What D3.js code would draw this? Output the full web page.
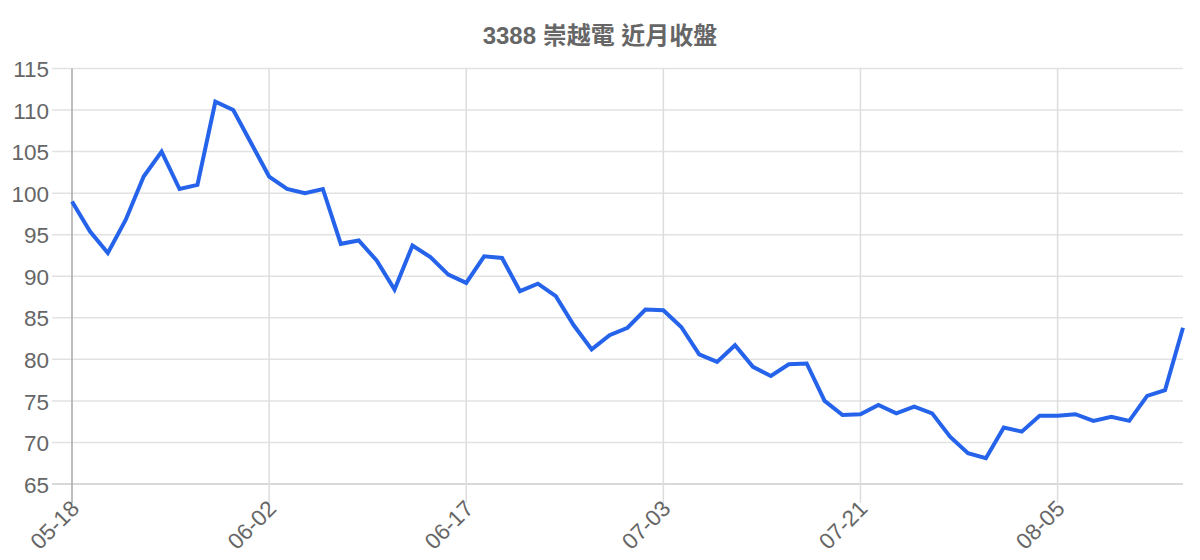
<!DOCTYPE html>
<html>
<head>
<meta charset="utf-8">
<script src="https://cdn.jsdelivr.net/npm/d3@7"></script>
<style>
  body { margin: 0; background: #fff; }
  text { font-family: "Liberation Sans", Arial, "Noto Sans CJK TC", sans-serif; }
</style>
</head>
<body>
<div class="canvas"></div>
<script>
// chart data
const title = '3388 崇越電 近月收盤';

const dates = [
  '05-18','05-19','05-22','05-23','05-24','05-25','05-26','05-29','05-30','05-31','06-01','06-02',
  '06-05','06-06','06-07','06-08','06-09','06-12','06-13','06-14','06-15','06-16','06-17',
  '06-19','06-20','06-21','06-22','06-23','06-26','06-27','06-28','06-29','06-30','07-03',
  '07-04','07-05','07-06','07-07','07-10','07-11','07-12','07-13','07-14','07-17','07-21',
  '07-24','07-25','07-26','07-27','07-28','07-31','08-01','08-02','08-03','08-04','08-05',
  '08-07','08-08','08-09','08-10','08-11','08-14','08-15'
];

const closes = [
  99.0, 95.4, 92.8, 96.8, 102.0, 105.0, 100.5, 101.0, 111.0, 110.0,
  106.0, 102.0, 100.5, 100.0, 100.5, 93.9, 94.3, 91.9, 88.4, 93.7,
  92.3, 90.2, 89.2, 92.4, 92.2, 88.2, 89.1, 87.6, 84.1, 81.2,
  82.9, 83.8, 86.0, 85.9, 83.9, 80.6, 79.7, 81.7, 79.1, 78.0,
  79.4, 79.5, 75.0, 73.3, 73.4, 74.5, 73.5, 74.3, 73.5, 70.7,
  68.7, 68.1, 71.8, 71.3, 73.2, 73.2, 73.4, 72.6, 73.1, 72.6,
  75.6, 76.3, 83.8
];

const xTickLabels = ['05-18','06-02','06-17','07-03','07-21','08-05'];
const yTicks = [65, 70, 75, 80, 85, 90, 95, 100, 105, 110, 115];

// layout
const W = 1200, H = 560;
const plotL = 72, plotR = 1183, plotT = 68.5, plotB = 484;

const svg = d3.select('.canvas').append('svg')
    .attr('width', W)
    .attr('height', H);

const x = d3.scalePoint()
    .domain(dates)
    .range([plotL, plotR]);

const y = d3.scaleLinear()
    .domain([65, 115])
    .range([plotB, plotT]);

// horizontal grid
svg.append('g')
  .selectAll('line')
  .data(yTicks)
  .join('line')
    .attr('x1', 52)
    .attr('x2', plotR)
    .attr('y1', d => y(d))
    .attr('y2', d => y(d))
    .attr('stroke', d => d === 65 ? '#cccccc' : '#e2e2e2')
    .attr('stroke-width', 1.5);

// vertical grid at labelled dates
svg.append('g')
  .selectAll('line')
  .data(xTickLabels)
  .join('line')
    .attr('x1', d => x(d))
    .attr('x2', d => x(d))
    .attr('y1', plotT)
    .attr('y2', 503)
    .attr('stroke', (d, i) => i === 0 ? '#a9a9a9' : '#dddddd')
    .attr('stroke-width', 1.5);

// y axis labels
const yAxis = d3.axisLeft(y).tickValues(yTicks).tickSize(0).tickPadding(0);
const gy = svg.append('g')
    .attr('transform', `translate(49,0)`)
    .call(yAxis);
gy.select('.domain').remove();
gy.selectAll('text')
    .attr('font-size', 22.5)
    .attr('fill', '#666')
    .attr('font-family', '"Liberation Sans", Arial, sans-serif')
    .attr('dy', '0.36em');

// x axis labels, rotated
const xAxis = d3.axisBottom(x).tickValues(xTickLabels).tickSize(0).tickPadding(0);
const gx = svg.append('g')
    .attr('transform', `translate(0,${plotB})`)
    .call(xAxis);
gx.select('.domain').remove();
gx.selectAll('text')
    .attr('font-size', 22.5)
    .attr('fill', '#666')
    .attr('font-family', '"Liberation Sans", Arial, sans-serif')
    .attr('text-anchor', 'end')
    .attr('dy', 0)
    .attr('y', 0)
    .attr('transform', 'translate(8,26) rotate(-45)');

// the line
const line = d3.line()
    .x((d, i) => x(dates[i]))
    .y(d => y(d));

svg.append('path')
    .datum(closes)
    .attr('d', line)
    .attr('fill', 'none')
    .attr('stroke', '#2563eb')
    .attr('stroke-width', 4)
    .attr('stroke-linejoin', 'miter');

// title
svg.append('text')
    .text(title)
    .attr('x', 600)
    .attr('y', 44)
    .attr('text-anchor', 'middle')
    .attr('font-size', 24)
    .attr('font-weight', 'bold')
    .attr('fill', '#666');
</script>
</body>
</html>
